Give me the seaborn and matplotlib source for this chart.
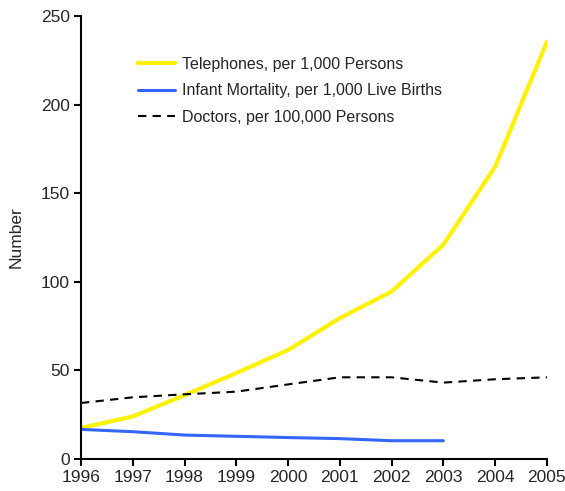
import numpy as np
import pandas as pd
import seaborn as sns
import matplotlib.pyplot as plt

years = [1996, 1997, 1998, 1999, 2000, 2001, 2002, 2003, 2004, 2005]
telephones = [17.5, 24, 36, 48.5, 61.5, 79.5, 94.5, 121, 165, 235.5]
infant_mortality = [16.7, 15.4, 13.5, 12.8, 12.1, 11.5, 10.3, 10.3, np.nan, np.nan]
doctors = [31.6, 34.8, 36.5, 38.0, 42.1, 46.1, 46.1, 43.1, 45.0, 46.1]

sns.set_style("ticks")
plt.rcParams['font.family'] = ['Liberation Sans', 'DejaVu Sans']

df = pd.DataFrame({
    "Year": years,
    "Telephones, per 1,000 Persons": telephones,
    "Infant Mortality, per 1,000 Live Births": infant_mortality,
    "Doctors, per 100,000 Persons": doctors,
})

fig = plt.figure(figsize=(5.65, 4.91), dpi=100)
ax = fig.add_axes([0.1434, 0.0652, 0.8246, 0.9022])

sns.lineplot(data=df, x="Year", y="Telephones, per 1,000 Persons", color="#FFF200",
             linewidth=3, label="Telephones, per 1,000 Persons", ax=ax)
sns.lineplot(data=df, x="Year", y="Infant Mortality, per 1,000 Live Births", color="#3366FF",
             linewidth=2.2, label="Infant Mortality, per 1,000 Live Births", ax=ax)
sns.lineplot(data=df, x="Year", y="Doctors, per 100,000 Persons", color="black",
             linewidth=1.5, dashes=False, label="Doctors, per 100,000 Persons", ax=ax)
ax.lines[2].set_linestyle((0, (4, 3)))

ax.set_xlim(1996, 2005)
ax.set_ylim(0, 250)
ax.set_xticks(years)
ax.set_yticks([0, 50, 100, 150, 200, 250])
ax.set_xlabel("")
ax.set_ylabel("Number", fontsize=12.5, labelpad=12)
ax.tick_params(labelsize=12.5, width=1.5, length=5, color="black", pad=3)
for s in ["left", "bottom"]:
    ax.spines[s].set_linewidth(1.5)
    ax.spines[s].set_color("black")
sns.despine(ax=ax)

leg = ax.legend(loc="upper left", bbox_to_anchor=(0.092, 0.94), frameon=False,
                fontsize=11.5, handlelength=2.3, handletextpad=0.45, labelspacing=0.72)

fig.savefig("out.png", dpi=100)
